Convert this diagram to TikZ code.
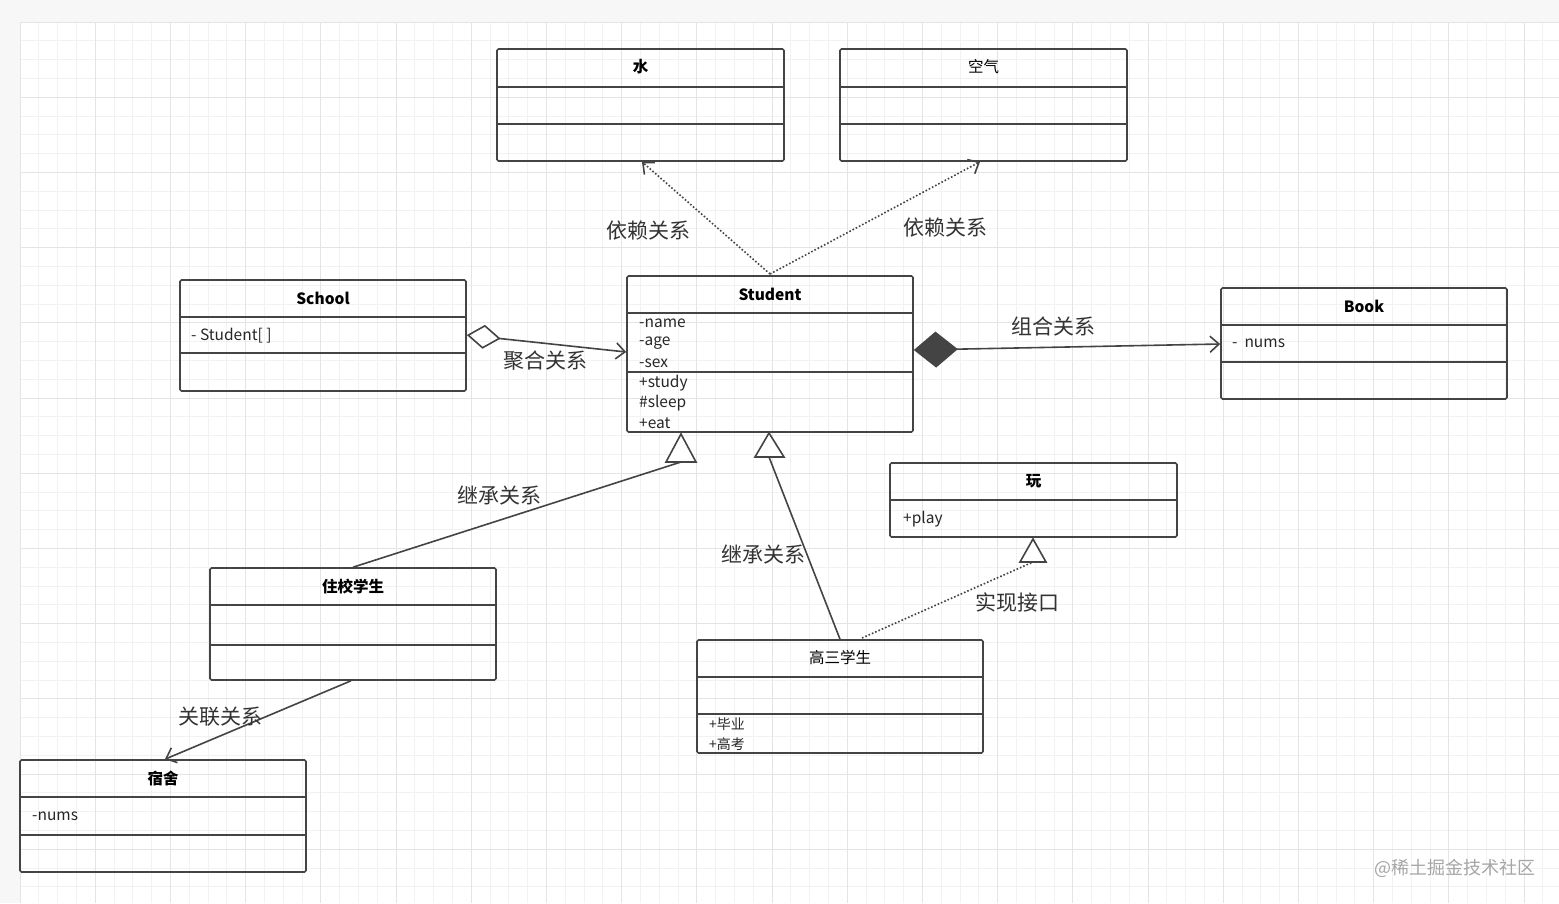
\documentclass[tikz,border=0pt]{standalone}
\usepackage{fontspec}
\setmainfont{Noto Sans CJK SC}
\usetikzlibrary{arrows.meta}
\definecolor{ln}{HTML}{444444}
\definecolor{gmin}{HTML}{F2F2F2}
\definecolor{gmaj}{HTML}{E4E4E4}
\tikzset{
  box/.style={draw=ln,line width=1.6pt,rounded corners=1.5pt,inner sep=0pt},
  ttl/.style={font=\fontsize{15.5}{17}\selectfont\bfseries,text=black},
  att/.style={font=\fontsize{15.5}{17}\selectfont,text=black!85,anchor=west,inner sep=0pt},
  lbl/.style={font=\fontsize{21}{24}\selectfont,text=black!80,inner sep=0pt},
  con/.style={draw=ln,line width=1.6pt},
  dep/.style={draw=ln,line width=1.6pt,dotted},
  open/.style={-{Straight Barb[length=9pt,width=16pt,line width=1.6pt]}},
  tri/.style={draw=ln,line width=1.6pt,fill=white,line join=miter},
}
\newcommand{\umlbox}[6]{% name, x1,y1,x2,y2, title
  \node[box,minimum width={(#4-#2)*1pt},minimum height={(#5-#3)*1pt}] (#1) at ({(#2+#4)/2},{(#3+#5)/2}) {};
  \node[ttl] (#1t) at ({(#2+#4)/2},{#3+18}) {#6};}
\newcommand{\sep}[3]{\draw[con] (#1,#3) -- (#2,#3);}
\begin{document}
\begin{tikzpicture}[x=1pt,y=-1pt]
\useasboundingbox (0,0) rectangle (1559,903);
\fill[gmin!60!white] (0,0) rectangle (1559,903);
\fill[white] (20,22) rectangle (1559,903);
\foreach \i in {0,...,82} {\draw[gmin,line width=0.9pt] ({20+\i*18.8},22) -- ({20+\i*18.8},903);}
\foreach \i in {0,...,47} {\draw[gmin,line width=0.9pt] (20,{22+\i*18.8}) -- (1559,{22+\i*18.8});}
\foreach \i in {0,...,20} {\draw[gmaj,line width=0.9pt] ({20+\i*75.2},22) -- ({20+\i*75.2},903);}
\foreach \i in {0,...,11} {\draw[gmaj,line width=0.9pt] (20,{22+\i*75.2}) -- (1559,{22+\i*75.2});}

% boxes
\umlbox{water}{497}{49}{784}{161}{水}
\sep{497}{784}{87}\sep{497}{784}{124}
\umlbox{air}{840}{49}{1127}{161}{\mdseries 空气}
\sep{840}{1127}{87}\sep{840}{1127}{124}
\umlbox{school}{180}{280}{466}{391}{School}
\sep{180}{466}{317}\sep{180}{466}{353}
\node[att] (schoola) at (191,336) {- Student[ ]};
\umlbox{stu}{627}{276}{913}{432}{Student}
\sep{627}{913}{313}\sep{627}{913}{372}
\node[att] (s1) at (639,323) {-name};
\node[att] (s2) at (639,343) {-age};
\node[att] (s3) at (639,363) {-sex};
\node[att] (s4) at (639,383) {+study};
\node[att] (s5) at (639,403) {\#sleep};
\node[att] (s6) at (639,423) {+eat};
\umlbox{book}{1221}{288}{1507}{399}{Book}
\sep{1221}{1507}{325}\sep{1221}{1507}{362}
\node[att] (booka) at (1232,343) {-\ \ nums};
\umlbox{play}{890}{463}{1177}{537}{\itshape 玩}
\sep{890}{1177}{500}
\node[att] (playa) at (903,519) {\itshape +play};
\umlbox{board}{210}{568}{496}{680}{住校学生}
\sep{210}{496}{605}\sep{210}{496}{645}
\umlbox{senior}{697}{640}{983}{753}{\mdseries 高三学生}
\sep{697}{983}{677}\sep{697}{983}{714}
\node[att,font=\fontsize{14}{15}\selectfont] (g1) at (709,724) {+毕业};
\node[att,font=\fontsize{14}{15}\selectfont] (g2) at (709,744) {+高考};
\umlbox{dorm}{20}{760}{306}{872}{宿舍}
\sep{20}{306}{797}\sep{20}{306}{835}
\node[att] (dorma) at (32,816) {-nums};

% connectors
\coordinate (sd) at (770,274);
\draw[dep,open] (sd) -- (water.south -| 642,0);
\draw[dep,open] (sd) -- (air.south -| 980,0);
\draw[con,{Diamond[open,length=34pt,width=24pt,line width=1.6pt]}-{Straight Barb[length=9pt,width=16pt,line width=1.6pt]}] (school.east |- 0,335) -- (stu.west |- 0,352);
\draw[con,{Diamond[length=44pt,width=36pt]}-{Straight Barb[length=9pt,width=16pt,line width=1.6pt]}] (stu.east |- 0,350) -- (book.west |- 0,344);
% inheritance (upright triangles)
\coordinate (t1) at (681,462);
\coordinate (t2) at (769,457);
\coordinate (t3) at (1033,562);
\draw[con] (board.north -| 353,0) -- (t1);
\draw[tri] (666,462) -- (696,462) -- (681,434) -- cycle;
\draw[con] (senior.north -| 840,0) -- (t2);
\draw[tri] (755,457) -- (784,457) -- (769,433) -- cycle;
\draw[dep] (862,638) -- (t3);
\draw[tri] (1020,562) -- (1046,562) -- (1033,539) -- cycle;
\draw[con,open] (board.south -| 351,0) -- (dorm.north -| 165,0);

% labels
\node[lbl] (l1) at (648,231) {依赖关系};
\node[lbl] (l2) at (945,228) {依赖关系};
\node[lbl] (l3) at (545,361) {聚合关系};
\node[lbl] (l4) at (1053,326) {组合关系};
\node[lbl] (l5) at (499,495) {继承关系};
\node[lbl] (l6) at (763,554) {继承关系};
\node[lbl] (l7) at (1017,602) {实现接口};
\node[lbl] (l8) at (220,717) {关联关系};
\node[font=\fontsize{18}{20}\selectfont,text=black!35] (wm) at (1455,868) {@稀土掘金技术社区};
\end{tikzpicture}
\end{document}
